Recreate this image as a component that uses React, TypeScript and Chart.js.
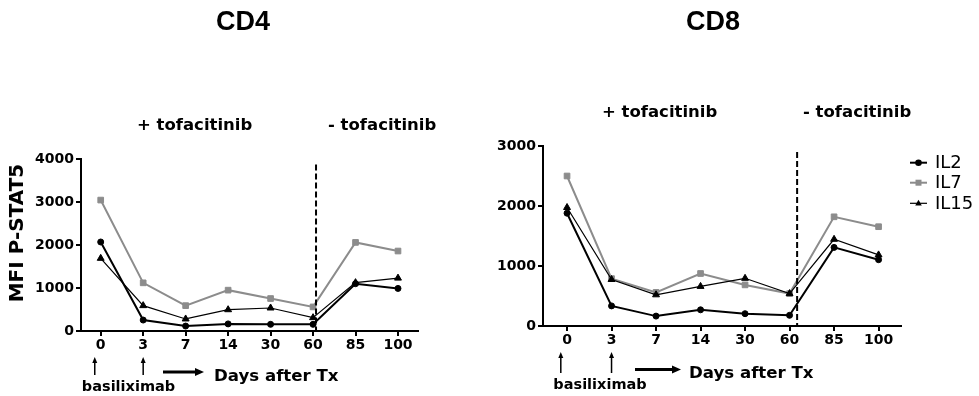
import React, { useEffect, useRef } from 'react';
import { Chart, registerables } from 'chart.js';
Chart.register(...registerables);

// ---- data ----
const days = ['0', '3', '7', '14', '30', '60', '85', '100'];
const seriesNames = ['IL2', 'IL7', 'IL15'];
const cd4IL2 = [2070, 255, 115, 165, 155, 155, 1100, 990];
const cd4IL7 = [3045, 1120, 590, 950, 755, 560, 2060, 1860];
const cd4IL15 = [1690, 590, 280, 495, 535, 310, 1125, 1230];
const cd8IL2 = [1880, 335, 165, 270, 205, 178, 1310, 1105];
const cd8IL7 = [2500, 790, 560, 875, 685, 540, 1820, 1655];
const cd8IL15 = [1975, 775, 520, 660, 795, 540, 1445, 1185];
const cd4YTicks = [0, 1000, 2000, 3000, 4000];
const cd8YTicks = [0, 1000, 2000, 3000];
const cd4Withdrawal = 5.07; // x position (day index) of the dashed line
const cd8Withdrawal = 5.17;
const basiliximabDays = [-0.14, 1]; // day index positions: day 0 and day 3

const GRAY = '#8c8c8c';
const SANS = '"DejaVu Sans", Verdana, sans-serif';

type Style = { color: string; width: number; point: any; radius: number };
const styles: Style[] = [
  { color: '#000', width: 2, point: 'circle', radius: 3 },
  { color: GRAY, width: 2, point: 'rect', radius: 4 },
  { color: '#000', width: 1.2, point: 'triangle', radius: 4 },
];

type Panel = {
  title: string;
  left: number;
  width: number;
  values: number[][];
  yTicks: number[];
  xMin: number;
  xMax: number;
  yW: number;
  xH: number;
  padTop: number;
  padRight: number;
  dashX: number;
  dashTop: number;
  titleX: number;
  plusX: number;
  minusX: number;
  tofaY: number;
  arrowTop: number;
  arrowBottom: number;
  basX: number;
  basY: number;
  hArrow: [number, number, number];
  daysX: number;
  daysY: number;
  yTitle: boolean;
  legend: boolean;
};

const panels: Panel[] = [
  {
    title: 'CD4', left: 0, width: 480, values: [cd4IL2, cd4IL7, cd4IL15], yTicks: cd4YTicks,
    xMin: -0.464, xMax: 7.471, yW: 81, xH: 65, padTop: 159, padRight: 62,
    dashX: cd4Withdrawal, dashTop: 3870, titleX: 243, plusX: 137, minusX: 328, tofaY: 126,
    arrowTop: 357, arrowBottom: 375, basX: 128.5, basY: 387, hArrow: [163, 204, 372],
    daysX: 214, daysY: 377, yTitle: true, legend: false,
  },
  {
    title: 'CD8', left: 480, width: 499, values: [cd8IL2, cd8IL7, cd8IL15], yTicks: cd8YTicks,
    xMin: -0.54, xMax: 7.504, yW: 63, xH: 70, padTop: 146, padRight: 78,
    dashX: cd8Withdrawal, dashTop: 2900, titleX: 233, plusX: 122, minusX: 323, tofaY: 113,
    arrowTop: 352, arrowBottom: 373, basX: 120, basY: 385, hArrow: [155, 201, 369.5],
    daysX: 209, daysY: 373.5, yTitle: false, legend: true,
  },
];

function drawArrow(ctx: CanvasRenderingContext2D, x1: number, y1: number, x2: number, y2: number,
  lw: number, headLen: number, headW: number) {
  const ang = Math.atan2(y2 - y1, x2 - x1);
  const bx = x2 - headLen * Math.cos(ang);
  const by = y2 - headLen * Math.sin(ang);
  ctx.beginPath();
  ctx.moveTo(x1, y1);
  ctx.lineTo(bx, by);
  ctx.lineWidth = lw;
  ctx.strokeStyle = '#000';
  ctx.stroke();
  ctx.beginPath();
  ctx.moveTo(x2, y2);
  ctx.lineTo(bx + headW * Math.sin(ang), by - headW * Math.cos(ang));
  ctx.lineTo(bx - headW * Math.sin(ang), by + headW * Math.cos(ang));
  ctx.closePath();
  ctx.fillStyle = '#000';
  ctx.fill();
}

function drawMarker(ctx: CanvasRenderingContext2D, kind: string, x: number, y: number, r: number, color: string) {
  ctx.fillStyle = color;
  ctx.beginPath();
  if (kind === 'circle') {
    ctx.arc(x, y, r, 0, Math.PI * 2);
  } else if (kind === 'rect') {
    ctx.rect(x - r, y - r, 2 * r, 2 * r);
  } else {
    ctx.moveTo(x, y - r * 1.1);
    ctx.lineTo(x + r, y + r * 0.7);
    ctx.lineTo(x - r, y + r * 0.7);
    ctx.closePath();
  }
  ctx.fill();
}

function makeChart(canvas: HTMLCanvasElement, p: Panel) {
  const tickFont = { family: SANS, size: 14, weight: 'bold' as const };
  const annot = {
    id: 'annot',
    afterDraw(chart: any) {
      const ctx: CanvasRenderingContext2D = chart.ctx;
      const xs = chart.scales.x;
      const ys = chart.scales.y;
      ctx.save();
      // dashed withdrawal line
      const dx = xs.getPixelForValue(p.dashX);
      ctx.beginPath();
      ctx.setLineDash([6, 3]);
      ctx.lineWidth = 2;
      ctx.strokeStyle = '#000';
      ctx.moveTo(dx, ys.getPixelForValue(p.dashTop));
      ctx.lineTo(dx, ys.getPixelForValue(0));
      ctx.stroke();
      ctx.setLineDash([]);
      // title
      ctx.fillStyle = '#000';
      ctx.textBaseline = 'middle';
      ctx.textAlign = 'center';
      ctx.font = 'bold 27px "Liberation Sans", Arial, sans-serif';
      ctx.fillText(p.title, p.titleX, 23);
      // tofacitinib labels
      ctx.textAlign = 'left';
      ctx.font = `bold 16.5px ${SANS}`;
      ctx.fillText('+ tofacitinib', p.plusX, p.tofaY);
      ctx.fillText('- tofacitinib', p.minusX, p.tofaY);
      // basiliximab arrows
      basiliximabDays.forEach((d) => {
        const ax = xs.getPixelForValue(d);
        drawArrow(ctx, ax, p.arrowBottom, ax, p.arrowTop, 1.5, 6, 2.5);
      });
      ctx.fillStyle = '#000';
      ctx.textAlign = 'center';
      ctx.font = `bold 14.5px ${SANS}`;
      ctx.fillText('basiliximab', p.basX, p.basY);
      drawArrow(ctx, p.hArrow[0], p.hArrow[2], p.hArrow[1], p.hArrow[2], 3, 9, 4);
      ctx.fillStyle = '#000';
      ctx.textAlign = 'left';
      ctx.font = `bold 16.6px ${SANS}`;
      ctx.fillText('Days after Tx', p.daysX, p.daysY);
      // y title
      if (p.yTitle) {
        ctx.save();
        ctx.translate(18, 233);
        ctx.rotate(-Math.PI / 2);
        ctx.textAlign = 'center';
        ctx.font = `bold 20px ${SANS}`;
        ctx.fillText('MFI P-STAT5', 0, 0);
        ctx.restore();
      }
      // legend
      if (p.legend) {
        const ly = [162.7, 182.7, 203.3];
        seriesNames.forEach((name, i) => {
          const st = styles[i];
          ctx.beginPath();
          ctx.strokeStyle = st.color;
          ctx.lineWidth = st.width;
          ctx.moveTo(430, ly[i]);
          ctx.lineTo(447, ly[i]);
          ctx.stroke();
          drawMarker(ctx, st.point, 438.5, ly[i], st.point === 'rect' ? 3 : 3.3, st.color);
          ctx.fillStyle = '#000';
          ctx.textAlign = 'left';
          ctx.font = `18px ${SANS}`;
          ctx.fillText(name, 455, ly[i] + 1);
        });
      }
      ctx.restore();
    },
  };

  return new Chart(canvas, {
    type: 'line',
    data: {
      datasets: p.values.map((vals, i) => ({
        label: seriesNames[i],
        data: vals.map((v, j) => ({ x: j, y: v })),
        borderColor: styles[i].color,
        backgroundColor: styles[i].color,
        pointBackgroundColor: styles[i].color,
        pointBorderColor: styles[i].color,
        borderWidth: styles[i].width,
        pointStyle: styles[i].point,
        pointRadius: styles[i].radius,
        pointBorderWidth: 1,
        tension: 0,
        fill: false,
        order: 3 - i,
      })),
    },
    options: {
      animation: false,
      responsive: false,
      events: [],
      layout: { padding: { top: p.padTop, right: p.padRight, left: 0, bottom: 0 } },
      plugins: { legend: { display: false }, tooltip: { enabled: false }, title: { display: false } },
      scales: {
        x: {
          type: 'linear',
          min: p.xMin,
          max: p.xMax,
          afterBuildTicks: (s: any) => { s.ticks = days.map((_, i) => ({ value: i })); },
          afterFit: (s: any) => { s.height = p.xH; },
          ticks: {
            callback: (v: any) => days[v] ?? '',
            font: tickFont,
            color: '#000',
            padding: 1,
            autoSkip: false,
            maxRotation: 0,
          },
          grid: { drawOnChartArea: false, drawTicks: true, tickLength: 5, color: '#000', lineWidth: 2 },
          border: { display: true, color: '#000', width: 2 },
        },
        y: {
          min: 0,
          max: p.yTicks[p.yTicks.length - 1],
          afterBuildTicks: (s: any) => { s.ticks = p.yTicks.map((v) => ({ value: v })); },
          afterFit: (s: any) => { s.width = p.yW; },
          ticks: { font: tickFont, color: '#000', padding: 2, callback: (v: any) => String(v) },
          grid: { drawOnChartArea: false, drawTicks: true, tickLength: 5, color: '#000', lineWidth: 2 },
          border: { display: true, color: '#000', width: 2 },
        },
      },
    },
    plugins: [annot],
  } as any);
}

function PanelChart({ p }: { p: Panel }) {
  const ref = useRef<HTMLCanvasElement>(null);
  useEffect(() => {
    if (!ref.current) return;
    const c = makeChart(ref.current, p);
    return () => c.destroy();
  }, [p]);
  return (
    <canvas
      ref={ref}
      width={p.width}
      height={396}
      style={{ position: 'absolute', left: p.left, top: 0, width: p.width, height: 396 }}
    />
  );
}

export default function App() {
  return (
    <div style={{ position: 'fixed', left: 0, top: 0, width: 979, height: 396, background: '#fff' }}>
      {panels.map((p) => (
        <PanelChart key={p.title} p={p} />
      ))}
    </div>
  );
}
